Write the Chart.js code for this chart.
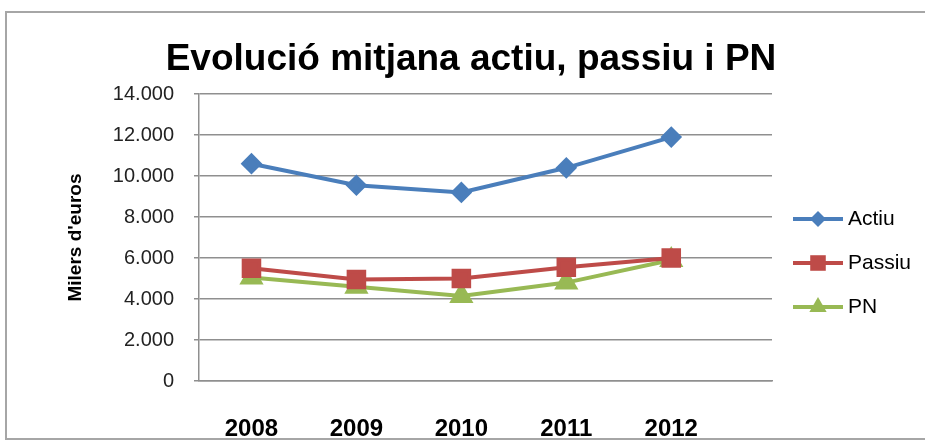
<!DOCTYPE html>
<html>
<head>
<meta charset="utf-8">
<script src="https://cdn.jsdelivr.net/npm/chart.js@4/dist/chart.umd.min.js"></script>
<style>
  body { margin: 0; background: #fff; }
  #marc { position: absolute; left: 5px; top: 11px; width: 940px; height: 425px; border: 2px solid #a6a6a6; pointer-events: none; }
  canvas { position: absolute; left: 0; top: 0; }
</style>
</head>
<body>
<canvas id="grafic" width="925" height="440"></canvas>
<div id="marc"></div>
<script>
const titol = "Evolució mitjana actiu, passiu i PN";
const anys = ['2008', '2009', '2010', '2011', '2012'];
const actiu = [10600, 9550, 9200, 10400, 11900];
const passiu = [5500, 4950, 5000, 5550, 6000];
const pn = [5050, 4600, 4150, 4800, 5900];
const etiquetesY = [0, 2000, 4000, 6000, 8000, 10000, 12000, 14000];

const font = "'Liberation Sans', Arial, sans-serif";
const gris = '#8f8f8f';

function punts(valors) {
    return valors.map((v, i) => ({ x: i, y: v }));
}

function formatMiles(v) {
    return String(v).replace(/\B(?=(\d{3})+(?!\d))/g, '.');
}

function dibuixaMarca(ctx, estil, r, x, y) {
    ctx.beginPath();
    if (estil === 'rectRot') {
        ctx.moveTo(x, y - r);
        ctx.lineTo(x + r, y);
        ctx.lineTo(x, y + r);
        ctx.lineTo(x - r, y);
    } else if (estil === 'rect') {
        const h = r * Math.SQRT1_2;
        ctx.rect(x - h, y - h, 2 * h, 2 * h);
    } else {
        const lado = r * Math.sqrt(3);
        ctx.moveTo(x, y - r);
        ctx.lineTo(x + lado / 2, y + r / 2);
        ctx.lineTo(x - lado / 2, y + r / 2);
    }
    ctx.closePath();
    ctx.fill();
}

// titol centrat sobre tot el grafic (no nomes sobre l'area)
const titolGran = {
    id: 'titolGran',
    afterDraw(chart) {
        const ctx = chart.ctx;
        ctx.save();
        ctx.fillStyle = '#000';
        ctx.font = 'bold 37px ' + font;
        ctx.textAlign = 'center';
        ctx.textBaseline = 'alphabetic';
        ctx.fillText(titol, 471, 70);
        ctx.restore();
    }
};

// llegenda a la dreta, amb linia i marca com a Excel
const llegenda = {
    id: 'llegenda',
    afterDraw(chart) {
        const ctx = chart.ctx;
        const area = chart.chartArea;
        const x0 = area.right + 21;
        ctx.save();
        chart.data.datasets.forEach((ds, i) => {
            const y = 219 + i * 44;
            ctx.strokeStyle = ds.borderColor;
            ctx.fillStyle = ds.borderColor;
            ctx.lineWidth = 4;
            ctx.beginPath();
            ctx.moveTo(x0, y);
            ctx.lineTo(x0 + 50, y);
            ctx.stroke();
            dibuixaMarca(ctx, ds.pointStyle, ds.pointRadius, x0 + 25, y);
            ctx.fillStyle = '#000';
            ctx.font = '21px ' + font;
            ctx.textBaseline = 'middle';
            ctx.fillText(ds.label, x0 + 55, y);
        });
        ctx.restore();
    }
};

const ctx = document.getElementById('grafic');
new Chart(ctx, {
    type: 'line',
    data: {
        datasets: [{
            label: 'Actiu',
            data: punts(actiu),
            borderColor: '#4a7ebb',
            backgroundColor: '#4a7ebb',
            borderWidth: 4,
            pointStyle: 'rectRot',
            pointRadius: 8,
            tension: 0
        }, {
            label: 'Passiu',
            data: punts(passiu),
            borderColor: '#be4b48',
            backgroundColor: '#be4b48',
            borderWidth: 4,
            pointStyle: 'rect',
            pointRadius: 11,
            tension: 0
        }, {
            label: 'PN',
            data: punts(pn),
            borderColor: '#98b954',
            backgroundColor: '#98b954',
            borderWidth: 4,
            pointStyle: 'triangle',
            pointRadius: 10,
            tension: 0
        }]
    },
    options: {
        responsive: false,
        animation: false,
        layout: { padding: { top: 94, right: 153 } },
        plugins: {
            legend: { display: false },
            tooltip: { enabled: false },
            title: { display: false }
        },
        scales: {
            x: {
                type: 'linear',
                min: -0.5,
                max: 4.96,
                afterBuildTicks: (scale) => {
                    scale.ticks = anys.map((a, i) => ({ value: i }));
                },
                afterFit: (scale) => { scale.height = 59; },
                grid: { display: false, drawTicks: false },
                border: { display: true, color: gris, width: 1.5 },
                ticks: {
                    autoSkip: false,
                    maxRotation: 0,
                    padding: 34,
                    color: '#000',
                    font: { family: font, size: 24, weight: 'bold' },
                    callback: (v) => anys[v]
                }
            },
            y: {
                min: 0,
                max: 14000,
                afterBuildTicks: (scale) => {
                    scale.ticks = etiquetesY.map((v) => ({ value: v }));
                },
                afterFit: (scale) => { scale.width = 199; },
                grid: { color: gris, lineWidth: 1.5, tickLength: 5 },
                border: { display: true, color: gris, width: 1.5 },
                ticks: {
                    padding: 20,
                    color: '#222',
                    font: { family: font, size: 20 },
                    callback: (v) => formatMiles(v)
                },
                title: {
                    display: true,
                    text: "Milers d'euros",
                    color: '#000',
                    font: { family: font, size: 19, weight: 'bold' },
                    padding: { top: 64, bottom: 0 }
                }
            }
        }
    },
    plugins: [titolGran, llegenda]
});
</script>
</body>
</html>
